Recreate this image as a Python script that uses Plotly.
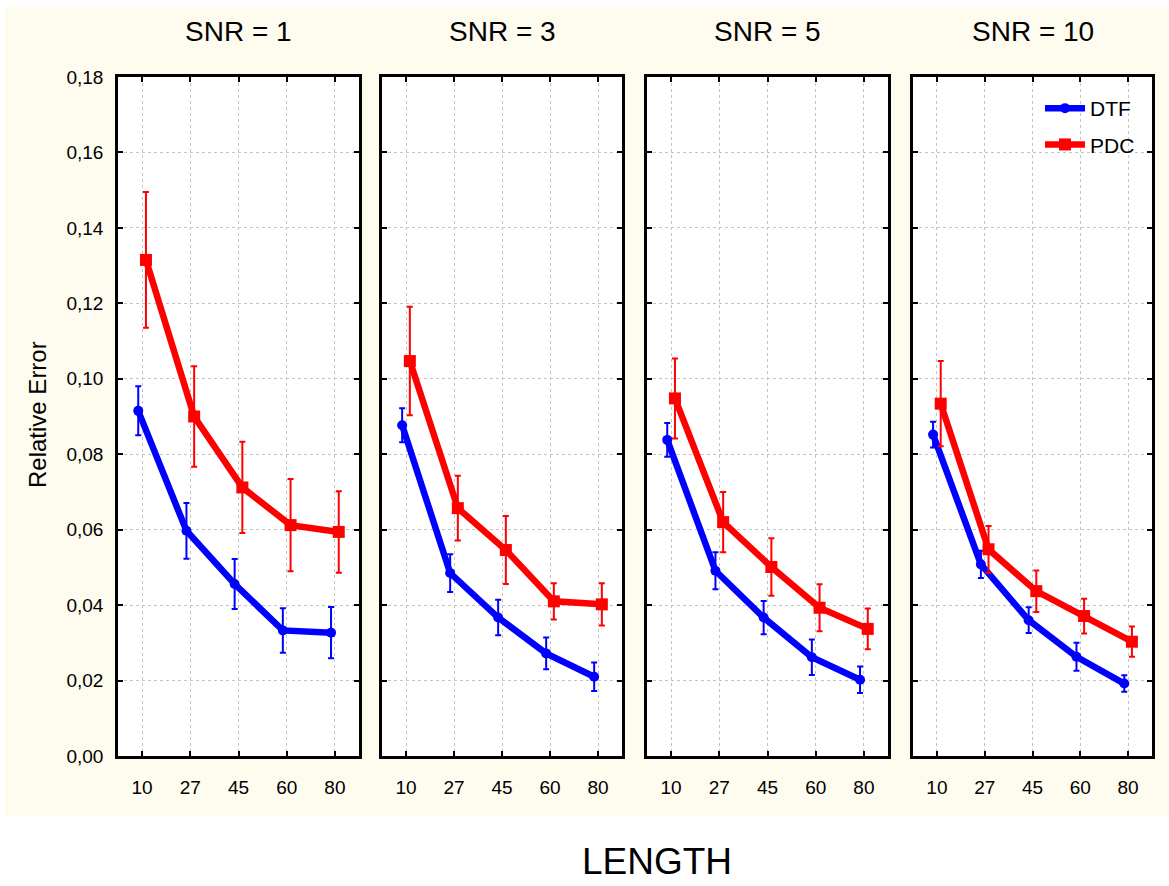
import plotly.graph_objects as go

# Series length categories shared by all panels
lengths = ["10", "27", "45", "60", "80"]
snr_titles = ["SNR = 1", "SNR = 3", "SNR = 5", "SNR = 10"]

# Relative error (mean) and error-bar half width, one list per SNR level
dtf_mean = [
    [0.0915, 0.0597, 0.0456, 0.0333, 0.0327],
    [0.0877, 0.0485, 0.0367, 0.0272, 0.0210],
    [0.0838, 0.0491, 0.0367, 0.0262, 0.0202],
    [0.0852, 0.0508, 0.0360, 0.0263, 0.0192],
]
dtf_err = [
    [0.0065, 0.0074, 0.0066, 0.0059, 0.0068],
    [0.0045, 0.0050, 0.0047, 0.0042, 0.0038],
    [0.0045, 0.0049, 0.0044, 0.0047, 0.0035],
    [0.0034, 0.0036, 0.0034, 0.0037, 0.0022],
]
pdc_mean = [
    [0.1315, 0.0900, 0.0712, 0.0612, 0.0594],
    [0.1047, 0.0657, 0.0546, 0.0410, 0.0402],
    [0.0948, 0.0620, 0.0501, 0.0393, 0.0337],
    [0.0934, 0.0548, 0.0437, 0.0371, 0.0303],
]
pdc_err = [
    [0.0180, 0.0133, 0.0121, 0.0122, 0.0108],
    [0.0144, 0.0086, 0.0090, 0.0048, 0.0056],
    [0.0106, 0.0080, 0.0076, 0.0062, 0.0054],
    [0.0113, 0.0062, 0.0055, 0.0046, 0.0040],
]

W, H = 1169, 886
FONT = "Liberation Sans, Arial, sans-serif"
BLUE = "#0000FF"
RED = "#FF0000"
BEIGE = "#FEFBEF"

# Panel pixel extents (left, right) and shared top/bottom
panel_px = [(118, 359), (382, 622), (647, 888), (913, 1152)]
top_px, bottom_px = 77, 756
ydom = [1 - bottom_px / H, 1 - top_px / H]

# Side-by-side offset so the two series do not overlap
shift = 0.08
idx = list(range(len(lengths)))

fig = go.Figure()

for p in range(4):
    xa = "x" if p == 0 else f"x{p + 1}"
    ya = "y" if p == 0 else f"y{p + 1}"
    show = p == 3
    fig.add_trace(go.Scatter(
        x=[i - shift for i in idx], y=dtf_mean[p], name="DTF",
        mode="lines+markers", xaxis=xa, yaxis=ya,
        line=dict(color=BLUE, width=6.5),
        marker=dict(symbol="circle", size=10, color=BLUE),
        error_y=dict(type="data", array=dtf_err[p], color=BLUE,
                     thickness=2, width=3),
        showlegend=show, legendgroup="dtf",
    ))
    fig.add_trace(go.Scatter(
        x=[i + shift for i in idx], y=pdc_mean[p], name="PDC",
        mode="lines+markers", xaxis=xa, yaxis=ya,
        line=dict(color=RED, width=6.5),
        marker=dict(symbol="square", size=12, color=RED),
        error_y=dict(type="data", array=pdc_err[p], color=RED,
                     thickness=2, width=3),
        showlegend=show, legendgroup="pdc",
    ))

axis_common = dict(
    showline=True, linecolor="black", linewidth=2.5, mirror="ticks",
    ticks="inside", ticklen=5, tickwidth=2, tickcolor="black",
    showgrid=True, gridcolor="#C4C4C4", gridwidth=1, griddash="dot",
    zeroline=False, automargin=False,
    tickfont=dict(family=FONT, size=19, color="black"),
)

layout = dict(
    width=W, height=H,
    margin=dict(l=0, r=0, t=0, b=0, autoexpand=False),
    paper_bgcolor=BEIGE, plot_bgcolor="white",
    separators=", ",
    font=dict(family=FONT, color="black"),
    showlegend=True,
    legend=dict(
        x=1140 / W, xanchor="right", y=1 - 88 / H, yanchor="top",
        bgcolor="rgba(0,0,0,0)", font=dict(family=FONT, size=21),
        traceorder="grouped", tracegroupgap=6, itemwidth=40,
    ),
)

annotations = []
for p, (l, r) in enumerate(panel_px):
    sfx = "" if p == 0 else str(p + 1)
    xa_name = "x" + sfx
    ya_name = "y" + sfx
    layout["xaxis" + sfx] = dict(
        axis_common, domain=[l / W, r / W], anchor=ya_name,
        range=[-0.5, len(lengths) - 0.5],
        tickmode="array", tickvals=idx, ticktext=lengths,
        ticklabelstandoff=12,
    )
    layout["yaxis" + sfx] = dict(
        axis_common, domain=ydom, anchor=xa_name,
        range=[0, 0.18], tickmode="linear", tick0=0, dtick=0.02,
        tickformat=".2f", showticklabels=(p == 0),
        ticklabelstandoff=8,
    )
    annotations.append(dict(
        text=snr_titles[p], xref="paper", yref="paper",
        x=(l + r) / 2 / W, y=1 - 31 / H, xanchor="center", yanchor="middle",
        showarrow=False, font=dict(family=FONT, size=28, color="black"),
    ))

annotations.append(dict(
    text="Relative Error", xref="paper", yref="paper",
    x=37 / W, y=1 - 415 / H, xanchor="center", yanchor="middle",
    textangle=-90, showarrow=False,
    font=dict(family=FONT, size=24, color="black"),
))
annotations.append(dict(
    text="LENGTH", xref="paper", yref="paper",
    x=657 / W, y=1 - 861 / H, xanchor="center", yanchor="middle",
    showarrow=False, font=dict(family=FONT, size=37, color="black"),
))
layout["annotations"] = annotations

# White border around the beige panel area
layout["shapes"] = [
    dict(type="rect", xref="paper", yref="paper", x0=0, x1=1,
         y0=0, y1=(H - 816) / H, fillcolor="white", line_width=0, layer="below"),
    dict(type="rect", xref="paper", yref="paper", x0=0, x1=1,
         y0=1 - 7 / H, y1=1, fillcolor="white", line_width=0, layer="below"),
    dict(type="rect", xref="paper", yref="paper", x0=0, x1=5 / W,
         y0=0, y1=1, fillcolor="white", line_width=0, layer="below"),
]

fig.update_layout(layout)
fig.write_html("out.html")
